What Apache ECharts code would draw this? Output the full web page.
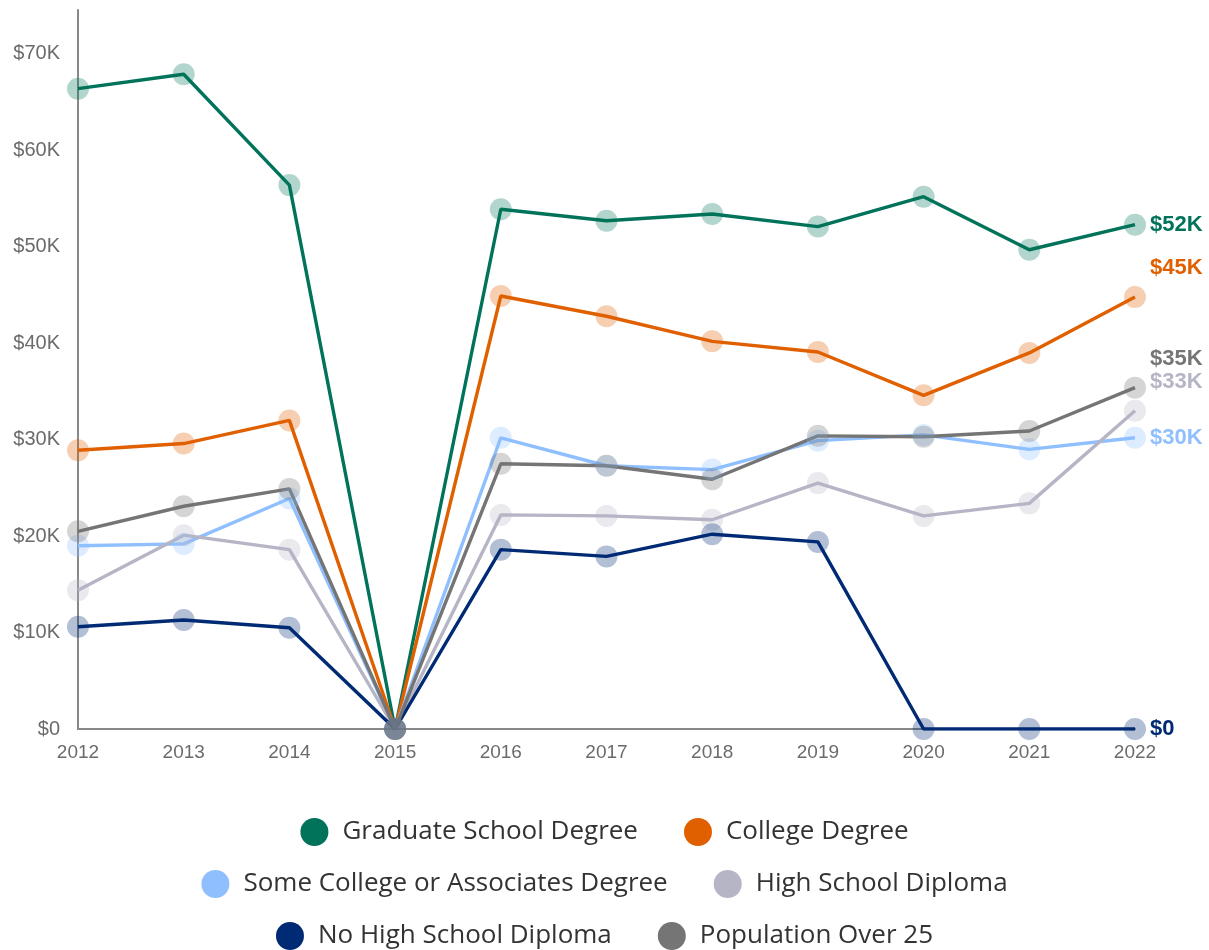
<!DOCTYPE html>
<html>
<head>
<meta charset="utf-8">
<script src="https://cdn.jsdelivr.net/npm/echarts@6/dist/echarts.min.js"></script>
<style>
  html, body { margin: 0; padding: 0; background: #fff; }
  #chart { width: 1209px; height: 950px; }
</style>
</head>
<body>
<div id="chart"></div>
<script>
// Median earnings by educational attainment, 2012–2022
const years = ['2012', '2013', '2014', '2015', '2016', '2017', '2018', '2019', '2020', '2021', '2022'];

const graduateSchool = [66400, 67900, 56400, 0, 53900, 52700, 53400, 52100, 55200, 49700, 52300];
const collegeDegree = [28900, 29600, 32000, 0, 44900, 42800, 40200, 39100, 34600, 39000, 44800];
const someCollege = [19000, 19200, 23900, 0, 30200, 27300, 26900, 29900, 30500, 29000, 30200];
const highSchool = [14400, 20100, 18600, 0, 22200, 22100, 21700, 25500, 22100, 23400, 33000];
const noHighSchool = [10600, 11300, 10500, 0, 18600, 17900, 20200, 19400, 0, 0, 0];
const populationOver25 = [20500, 23100, 24900, 0, 27500, 27300, 25900, 30400, 30300, 30900, 35400];

const seriesNames = [
  'Graduate School Degree',
  'College Degree',
  'Some College or Associates Degree',
  'High School Diploma',
  'No High School Diploma',
  'Population Over 25'
];
const seriesValues = [graduateSchool, collegeDegree, someCollege, highSchool, noHighSchool, populationOver25];
const seriesColors = ['#00735a', '#e06000', '#8fbfff', '#b5b5c6', '#002b74', '#757575'];
// vertical nudge for end labels that would otherwise collide
const endLabelShift = [0, -29, 0, -29, 0, -29];

function money(v) {
  if (v === 0) return '$0';
  return '$' + Math.round(v / 1000) + 'K';
}

const chart = echarts.init(document.getElementById('chart'), null, { renderer: 'canvas' });

const series = seriesNames.map((name, i) => ({
  name: name,
  type: 'line',
  data: seriesValues[i],
  symbol: 'circle',
  symbolSize: 22,
  showSymbol: true,
  lineStyle: { color: seriesColors[i], width: 3.4 },
  itemStyle: { color: seriesColors[i], opacity: 0.3 },
  emphasis: { disabled: true },
  animation: false,
  endLabel: {
    show: true,
    formatter: p => money(p.value),
    color: seriesColors[i],
    fontFamily: 'Liberation Sans',
    fontWeight: 'bold',
    fontSize: 22,
    distance: 15,
    offset: [0, endLabelShift[i]]
  }
}));

const legendBase = {
  left: 'center',
  icon: 'circle',
  itemWidth: 28,
  itemHeight: 28,
  itemGap: 46,
  selectedMode: false,
  itemStyle: { opacity: 1 },
  textStyle: { fontFamily: 'Open Sans', fontSize: 26, color: '#333', padding: [0, 0, 0, 9] }
};

chart.setOption({
  animation: false,
  grid: { left: 78, right: 74, top: 10, bottom: 221, containLabel: false },
  xAxis: {
    type: 'category',
    data: years,
    boundaryGap: false,
    axisLine: { show: true, lineStyle: { color: '#888', width: 2 } },
    axisTick: { show: false },
    axisLabel: { color: '#6b6b6b', fontFamily: 'Liberation Sans', fontSize: 19, margin: 14 },
    splitLine: { show: false }
  },
  yAxis: {
    type: 'value',
    min: 0,
    max: 74560,
    interval: 10000,
    axisLine: { show: true, lineStyle: { color: '#888', width: 2 } },
    axisTick: { show: false },
    splitLine: { show: false },
    axisLabel: {
      color: '#6b6b6b',
      fontFamily: 'Liberation Sans',
      fontSize: 20,
      margin: 18,
      formatter: v => (v % 10000 === 0 ? money(v) : '')
    }
  },
  legend: [
    Object.assign({}, legendBase, { top: 813, data: [seriesNames[0], seriesNames[1]] }),
    Object.assign({}, legendBase, { top: 865, data: [seriesNames[2], seriesNames[3]] }),
    Object.assign({}, legendBase, { top: 917, data: [seriesNames[4], seriesNames[5]] })
  ],
  series: series
});
</script>
</body>
</html>
